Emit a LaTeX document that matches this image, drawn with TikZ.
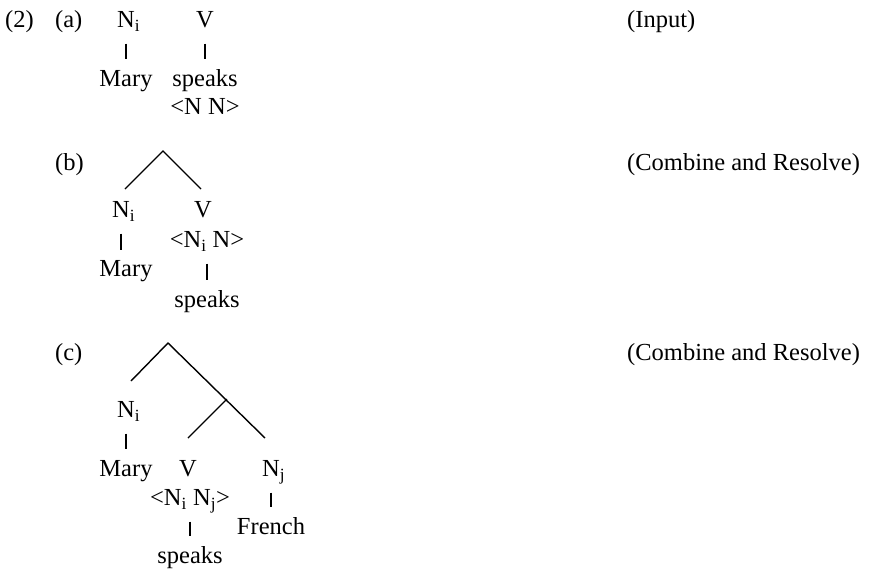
\documentclass[tikz,border=0pt]{standalone}
\usepackage{fontspec}
\setmainfont{Liberation Serif}
\usetikzlibrary{positioning}
\newcommand{\catsub}[2]{#1\rlap{\textsubscript{#2}}}

\begin{document}
\begin{tikzpicture}[x=1pt,y=-1pt,font=\fontsize{24.5}{28}\selectfont,
    every node/.style={inner sep=0pt,text height=16pt,text depth=5pt},
    node distance=59pt,
    bar/.style={shorten <=11pt,shorten >=11pt,line width=1.3pt},
    branch/.style={line width=1.4pt}]
  \useasboundingbox (0,0) rectangle (873,568);

  \node[anchor=west] (num)  at (5,22)   {(2)};
  \node[anchor=west] (lbla) at (55,22)  {(a)};
  \node              (nia)  at (126,22) {\catsub{N}{i}};
  \node              (va)   at (205,22) {V};
  \node (marya)   [below of=nia] {Mary};
  \node (speaksa) [below of=va]  {speaks};
  \node (argsa)   [node distance=28pt,below of=speaksa] {<N N>};
  \node[anchor=west] (rulea) at (627,22) {(Input)};

  \draw (nia) edge[bar] (marya)
        (va)  edge[bar] (speaksa);

  \node[anchor=west] (lblb) at (55,165) {(b)};
  \coordinate (topb)   at (163,151);
  \coordinate (leftb)  at (125,189);
  \coordinate (rightb) at (201,189);
  \node (nib)     at (121,212) {\catsub{N}{i}};
  \node (vb)      at (203,212) {V};
  \node (maryb)   [below of=nib,xshift=5pt] {Mary};
  \node (argsb)   [node distance=30pt,below of=vb,xshift=4pt] {<N\textsubscript{i} N>};
  \node (speaksb) [node distance=60pt,below of=argsb] {speaks};
  \node[anchor=west] (ruleb) at (627,165) {(Combine and Resolve)};

  \draw[branch] (leftb) -- (topb) -- (rightb);
  \draw (nib)   edge[bar,shorten >=21.5pt] (nib |- maryb)
        (argsb) edge[bar] (speaksb);

  \node[anchor=west] (lblc) at (55,355) {(c)};
  \coordinate (topc)      at (168,343);
  \coordinate (leftc)     at (131,381);
  \coordinate (midc)      at (227,399);
  \coordinate (rightc)    at (265,438);
  \coordinate (midleftc)  at (188,438);
  \node (nic)     at (126,412) {\catsub{N}{i}};
  \node (vc)      at (188,471) {V};
  \node (njc)     at (271,471) {\catsub{N}{j}};
  \node (maryc)   [below of=nic] {Mary};
  \node (argsc)   [node distance=29pt,below of=vc,xshift=2pt] {<N\textsubscript{i} N\textsubscript{j}>};
  \node (speaksc) [node distance=58pt,below of=argsc] {speaks};
  \node (frenchc) [node distance=58pt,below of=njc] {French};
  \node[anchor=west] (rulec) at (627,355) {(Combine and Resolve)};

  \draw[branch] (leftc) -- (topc) -- (rightc)
                (midc) -- (midleftc);
  \draw (nic)   edge[bar] (maryc)
        (argsc) edge[bar] (speaksc)
        (njc)   edge[bar] (frenchc);
\end{tikzpicture}
\end{document}
